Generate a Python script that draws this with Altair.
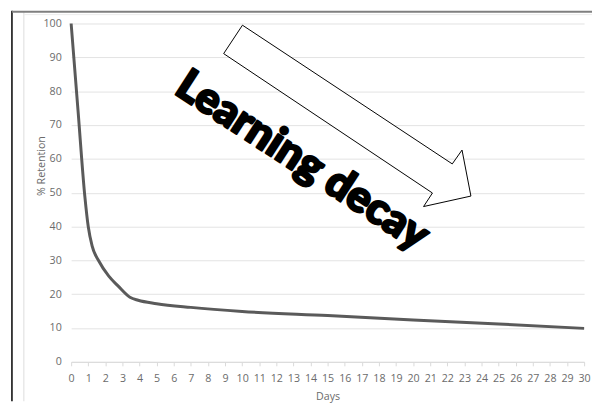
import altair as alt
import pandas as pd

# Retention curve
days = [0, 0.4, 0.8, 1.0, 1.23, 1.62, 2.19, 2.77, 3.44, 3.92, 5, 7, 10, 15, 20, 25, 30]
retention = [100, 74.5, 49, 40, 34.2, 29.8, 25.4, 22.3, 19.1, 18.2, 17.2, 16.1, 14.9, 13.7, 12.4, 11.2, 9.9]

# Annotation arrow outline (in data units: days, % retention)
arrow_x = [10.02, 22.29, 22.86, 23.38, 20.61, 21.13, 8.92, 10.02]
arrow_y = [99.5, 58.5, 62.6, 49.0, 45.9, 49.9, 91.1, 99.5]

annotation_text = ["Learning decay"]
annotation_x = [13.5]
annotation_y = [59.3]

x_ticks = list(range(0, 31))
y_ticks = list(range(0, 101, 10))

curve = pd.DataFrame({"Days": days, "Retention": retention})
arrow = pd.DataFrame({"Days": arrow_x, "Retention": arrow_y, "o": list(range(len(arrow_x)))})
label = pd.DataFrame({"Days": annotation_x, "Retention": annotation_y, "t": annotation_text})

FONT = "Open Sans"
GRAY = "#6b6b6b"

xs = alt.Scale(domain=[0, 30], nice=False, zero=False)
ys = alt.Scale(domain=[0, 100], nice=False)

x_axis = alt.Axis(values=x_ticks, grid=False, labelFlush=False, labelOverlap=False,
                  domainColor="#d9d9d9", tickColor="#d9d9d9", tickSize=4,
                  labelPadding=7, labelColor=GRAY, labelFont=FONT, labelFontSize=10.8,
                  titleColor=GRAY, titleFont=FONT, titleFontSize=10.8,
                  titleFontWeight="normal", titlePadding=7)
y_axis = alt.Axis(values=y_ticks, grid=True, gridColor="#e3e3e3", gridWidth=1,
                  domain=False, ticks=False, labelPadding=10, labelOverlap=False,
                  labelColor=GRAY, labelFont=FONT, labelFontSize=10.8,
                  titleColor=GRAY, titleFont=FONT, titleFontSize=10.8,
                  titleFontWeight="normal", titleX=-30, titleY=144,
                  titleBaseline="middle", titleAlign="center")

X = alt.X("Days:Q", scale=xs, title="Days", axis=x_axis)
Y = alt.Y("Retention:Q", scale=ys, title="% Retention", axis=y_axis)

line = alt.Chart(curve).mark_line(
    color="#5a5a5a", strokeWidth=3, interpolate="monotone"
).encode(x=X, y=Y)

arrow_mark = alt.Chart(arrow).mark_line(
    fill="white", stroke="black", strokeWidth=1, strokeJoin="miter"
).encode(x=X, y=Y, order="o:Q")

text = alt.Chart(label).mark_text(
    font="Lato", fontWeight=900, fontSize=44, angle=33, align="center",
    baseline="middle", color="black", stroke="black", strokeWidth=2.4,
    strokeJoin="round"
).encode(x=X, y=Y, text="t:N")

frame_df = pd.DataFrame({"k": [0]})
left_black = alt.Chart(frame_df).mark_rule(color="black", strokeWidth=1.5).encode(
    x=alt.value(-60), y=alt.value(-13), y2=alt.value(383))
inner_gray = alt.Chart(frame_df).mark_rule(color="#e8e8e8", strokeWidth=1.5).encode(
    x=alt.value(-48), y=alt.value(-12), y2=alt.value(383))
top_gray = alt.Chart(frame_df).mark_rule(color="#7f7f7f", strokeWidth=2).encode(
    x=alt.value(-60), x2=alt.value(528), y=alt.value(-12))
top_inner = alt.Chart(frame_df).mark_rule(color="#ececec", strokeWidth=1).encode(
    x=alt.value(-48), x2=alt.value(528), y=alt.value(-9))

chart = alt.layer(
    line, arrow_mark, text, left_black, inner_gray, top_gray, top_inner
).properties(
    width=520, height=343,
    autosize=alt.AutoSizeParams(type="none"),
    padding={"left": 64, "top": 13, "right": 8, "bottom": 40},
).configure_view(stroke=None)

chart.save("out.html", embed_options={"renderer": "svg", "actions": False})
